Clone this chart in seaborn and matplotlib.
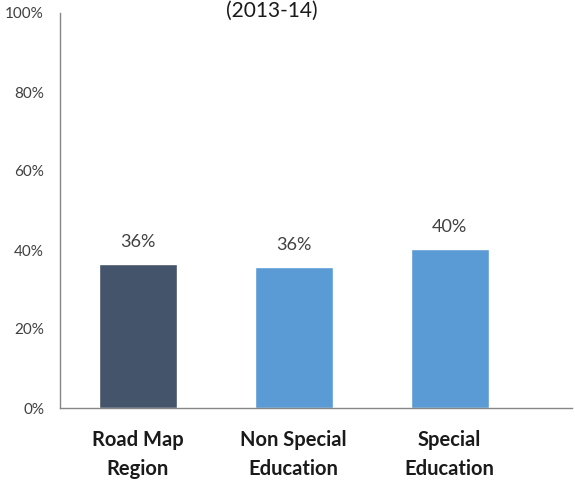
import matplotlib
matplotlib.use("Agg")
import matplotlib.pyplot as plt
import seaborn as sns
import pandas as pd

categories = ["Road Map\nRegion", "Non Special\nEducation", "Special\nEducation"]
values = [36.5, 35.8, 40.3]
labels = ["36%", "36%", "40%"]
colors = ["#44546A", "#5B9BD5", "#5B9BD5"]
yticks = [0, 20, 40, 60, 80, 100]
title = "(2013-14)"

sns.set_style("white")
plt.rcParams["font.family"] = ["Lato", "DejaVu Sans"]

fig = plt.figure(figsize=(5.75, 4.84), dpi=100)
ax = fig.add_axes([60/575, 76/484, 512/575, 395/484])

df = pd.DataFrame({"cat": categories, "val": values})
sns.barplot(data=df, x="cat", y="val", hue="cat", palette=colors, width=0.5,
            legend=False, ax=ax, saturation=1)

ax.set_ylim(0, 100)
ax.set_xlim(-0.497, 2.785)
ax.set_yticks(yticks)
ax.set_yticklabels([f"{t}%" for t in yticks], fontsize=11, color="#404040")
ax.tick_params(axis="y", length=0, pad=11.5)
ax.tick_params(axis="x", length=0, pad=16)
for lbl in ax.get_xticklabels():
    lbl.set_fontsize(14.5)
    lbl.set_fontweight("bold")
    lbl.set_color("#1a1a1a")
    lbl.set_linespacing(1.55)
ax.set_xlabel("")
ax.set_ylabel("")
for s in ["top", "right"]:
    ax.spines[s].set_visible(False)
for s in ["left", "bottom"]:
    ax.spines[s].set_color("#868686")
    ax.spines[s].set_linewidth(1)

for i, (v, t) in enumerate(zip(values, labels)):
    ax.annotate(t, (i, v), xytext=(0, 10), textcoords="offset points",
                ha="center", va="bottom", fontsize=13, color="#404040")

fig.text(272/575, 1 - 1/484, title, ha="center", va="top", fontsize=15, color="#1a1a1a")

fig.savefig("out.png", dpi=100)
